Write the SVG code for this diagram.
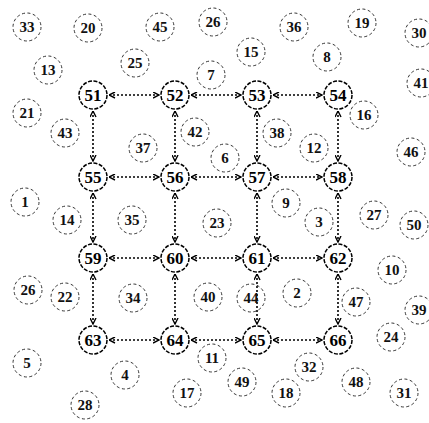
<svg xmlns="http://www.w3.org/2000/svg" width="429" height="423" viewBox="0 0 429 423">
<style>
.m circle{fill:#fff;stroke:#000;stroke-width:1.5;stroke-dasharray:4 1.5}
.m text{font-family:"Liberation Serif",serif;font-weight:bold;font-size:17px;fill:#000;text-anchor:middle;dominant-baseline:central}
.s circle{fill:none;stroke:#333;stroke-width:1;stroke-dasharray:3 2.5}
.s text{font-family:"Liberation Serif",serif;font-weight:bold;font-size:15px;fill:#111;text-anchor:middle;dominant-baseline:central}
#edges line{stroke:#000;stroke-width:1.6;stroke-dasharray:2 2;marker-start:url(#a);marker-end:url(#a)}
</style>
<defs>
<marker id="a" viewBox="0 0 7 7" refX="6.5" refY="3.5" markerWidth="7" markerHeight="7" markerUnits="userSpaceOnUse" orient="auto-start-reverse">
<path d="M0.5,0.5 L6.5,3.5 L0.5,6.5" fill="none" stroke="#000" stroke-width="1.4"/>
</marker>
</defs>
<rect width="429" height="423" fill="#fff"/>
<g id="edges">
<line x1="109" y1="95" x2="159" y2="95"/>
<line x1="191" y1="95" x2="241" y2="95"/>
<line x1="273" y1="95" x2="322" y2="95"/>
<line x1="109" y1="177" x2="159" y2="177"/>
<line x1="191" y1="177" x2="241" y2="177"/>
<line x1="273" y1="177" x2="322" y2="177"/>
<line x1="109" y1="258" x2="159" y2="258"/>
<line x1="191" y1="258" x2="241" y2="258"/>
<line x1="273" y1="258" x2="322" y2="258"/>
<line x1="109" y1="340" x2="159" y2="340"/>
<line x1="191" y1="340" x2="241" y2="340"/>
<line x1="273" y1="340" x2="322" y2="340"/>
<line x1="93" y1="111" x2="93" y2="161"/>
<line x1="93" y1="193" x2="93" y2="242"/>
<line x1="93" y1="274" x2="93" y2="324"/>
<line x1="175" y1="111" x2="175" y2="161"/>
<line x1="175" y1="193" x2="175" y2="242"/>
<line x1="175" y1="274" x2="175" y2="324"/>
<line x1="257" y1="111" x2="257" y2="161"/>
<line x1="257" y1="193" x2="257" y2="242"/>
<line x1="257" y1="274" x2="257" y2="324"/>
<line x1="338" y1="111" x2="338" y2="161"/>
<line x1="338" y1="193" x2="338" y2="242"/>
<line x1="338" y1="274" x2="338" y2="324"/>
</g>
<g id="n51" class="m"><circle cx="93" cy="95" r="14"/><text x="93" y="95">51</text></g>
<g id="n52" class="m"><circle cx="175" cy="95" r="14"/><text x="175" y="95">52</text></g>
<g id="n53" class="m"><circle cx="257" cy="95" r="14"/><text x="257" y="95">53</text></g>
<g id="n54" class="m"><circle cx="338" cy="95" r="14"/><text x="338" y="95">54</text></g>
<g id="n55" class="m"><circle cx="93" cy="177" r="14"/><text x="93" y="177">55</text></g>
<g id="n56" class="m"><circle cx="175" cy="177" r="14"/><text x="175" y="177">56</text></g>
<g id="n57" class="m"><circle cx="257" cy="177" r="14"/><text x="257" y="177">57</text></g>
<g id="n58" class="m"><circle cx="338" cy="177" r="14"/><text x="338" y="177">58</text></g>
<g id="n59" class="m"><circle cx="93" cy="258" r="14"/><text x="93" y="258">59</text></g>
<g id="n60" class="m"><circle cx="175" cy="258" r="14"/><text x="175" y="258">60</text></g>
<g id="n61" class="m"><circle cx="257" cy="258" r="14"/><text x="257" y="258">61</text></g>
<g id="n62" class="m"><circle cx="338" cy="258" r="14"/><text x="338" y="258">62</text></g>
<g id="n63" class="m"><circle cx="93" cy="340" r="14"/><text x="93" y="340">63</text></g>
<g id="n64" class="m"><circle cx="175" cy="340" r="14"/><text x="175" y="340">64</text></g>
<g id="n65" class="m"><circle cx="257" cy="340" r="14"/><text x="257" y="340">65</text></g>
<g id="n66" class="m"><circle cx="338" cy="340" r="14"/><text x="338" y="340">66</text></g>
<g id="n33" class="s"><circle cx="27" cy="27" r="14"/><text x="27" y="27">33</text></g>
<g id="n20" class="s"><circle cx="88" cy="28" r="14"/><text x="88" y="28">20</text></g>
<g id="n45" class="s"><circle cx="160" cy="27" r="14"/><text x="160" y="27">45</text></g>
<g id="n26a" class="s"><circle cx="213" cy="22" r="14"/><text x="213" y="22">26</text></g>
<g id="n36" class="s"><circle cx="294" cy="27" r="14"/><text x="294" y="27">36</text></g>
<g id="n19" class="s"><circle cx="362" cy="23" r="14"/><text x="362" y="23">19</text></g>
<g id="n30" class="s"><circle cx="419" cy="33" r="14"/><text x="419" y="33">30</text></g>
<g id="n13" class="s"><circle cx="48" cy="70" r="14"/><text x="48" y="70">13</text></g>
<g id="n25" class="s"><circle cx="135" cy="63" r="14"/><text x="135" y="63">25</text></g>
<g id="n15" class="s"><circle cx="251" cy="52" r="14"/><text x="251" y="52">15</text></g>
<g id="n8" class="s"><circle cx="327" cy="57" r="14"/><text x="327" y="57">8</text></g>
<g id="n7" class="s"><circle cx="211" cy="75" r="14"/><text x="211" y="75">7</text></g>
<g id="n41" class="s"><circle cx="421" cy="83" r="14"/><text x="421" y="83">41</text></g>
<g id="n21" class="s"><circle cx="27" cy="113" r="14"/><text x="27" y="113">21</text></g>
<g id="n43" class="s"><circle cx="65" cy="133" r="14"/><text x="65" y="133">43</text></g>
<g id="n42" class="s"><circle cx="195" cy="132" r="14"/><text x="195" y="132">42</text></g>
<g id="n37" class="s"><circle cx="143" cy="148" r="14"/><text x="143" y="148">37</text></g>
<g id="n38" class="s"><circle cx="277" cy="133" r="14"/><text x="277" y="133">38</text></g>
<g id="n16" class="s"><circle cx="364" cy="115" r="14"/><text x="364" y="115">16</text></g>
<g id="n12" class="s"><circle cx="314" cy="148" r="14"/><text x="314" y="148">12</text></g>
<g id="n46" class="s"><circle cx="411" cy="152" r="14"/><text x="411" y="152">46</text></g>
<g id="n6" class="s"><circle cx="225" cy="158" r="14"/><text x="225" y="158">6</text></g>
<g id="n1" class="s"><circle cx="25" cy="202" r="14"/><text x="25" y="202">1</text></g>
<g id="n14" class="s"><circle cx="67" cy="220" r="14"/><text x="67" y="220">14</text></g>
<g id="n35" class="s"><circle cx="132" cy="220" r="14"/><text x="132" y="220">35</text></g>
<g id="n23" class="s"><circle cx="217" cy="223" r="14"/><text x="217" y="223">23</text></g>
<g id="n9" class="s"><circle cx="286" cy="203" r="14"/><text x="286" y="203">9</text></g>
<g id="n3" class="s"><circle cx="319" cy="222" r="14"/><text x="319" y="222">3</text></g>
<g id="n27" class="s"><circle cx="374" cy="215" r="14"/><text x="374" y="215">27</text></g>
<g id="n50" class="s"><circle cx="414" cy="225" r="14"/><text x="414" y="225">50</text></g>
<g id="n10" class="s"><circle cx="392" cy="270" r="14"/><text x="392" y="270">10</text></g>
<g id="n26b" class="s"><circle cx="28" cy="290" r="14"/><text x="28" y="290">26</text></g>
<g id="n22" class="s"><circle cx="65" cy="297" r="14"/><text x="65" y="297">22</text></g>
<g id="n34" class="s"><circle cx="133" cy="298" r="14"/><text x="133" y="298">34</text></g>
<g id="n40" class="s"><circle cx="208" cy="297" r="14"/><text x="208" y="297">40</text></g>
<g id="n44" class="s"><circle cx="251" cy="298" r="14"/><text x="251" y="298">44</text></g>
<g id="n2" class="s"><circle cx="297" cy="293" r="14"/><text x="297" y="293">2</text></g>
<g id="n47" class="s"><circle cx="356" cy="302" r="14"/><text x="356" y="302">47</text></g>
<g id="n39" class="s"><circle cx="419" cy="310" r="14"/><text x="419" y="310">39</text></g>
<g id="n24" class="s"><circle cx="391" cy="337" r="14"/><text x="391" y="337">24</text></g>
<g id="n5" class="s"><circle cx="27" cy="363" r="14"/><text x="27" y="363">5</text></g>
<g id="n4" class="s"><circle cx="125" cy="375" r="14"/><text x="125" y="375">4</text></g>
<g id="n11" class="s"><circle cx="212" cy="358" r="14"/><text x="212" y="358">11</text></g>
<g id="n17" class="s"><circle cx="187" cy="393" r="14"/><text x="187" y="393">17</text></g>
<g id="n28" class="s"><circle cx="85" cy="405" r="14"/><text x="85" y="405">28</text></g>
<g id="n49" class="s"><circle cx="242" cy="382" r="14"/><text x="242" y="382">49</text></g>
<g id="n18" class="s"><circle cx="286" cy="393" r="14"/><text x="286" y="393">18</text></g>
<g id="n32" class="s"><circle cx="309" cy="367" r="14"/><text x="309" y="367">32</text></g>
<g id="n48" class="s"><circle cx="356" cy="382" r="14"/><text x="356" y="382">48</text></g>
<g id="n31" class="s"><circle cx="404" cy="393" r="14"/><text x="404" y="393">31</text></g>
</svg>
